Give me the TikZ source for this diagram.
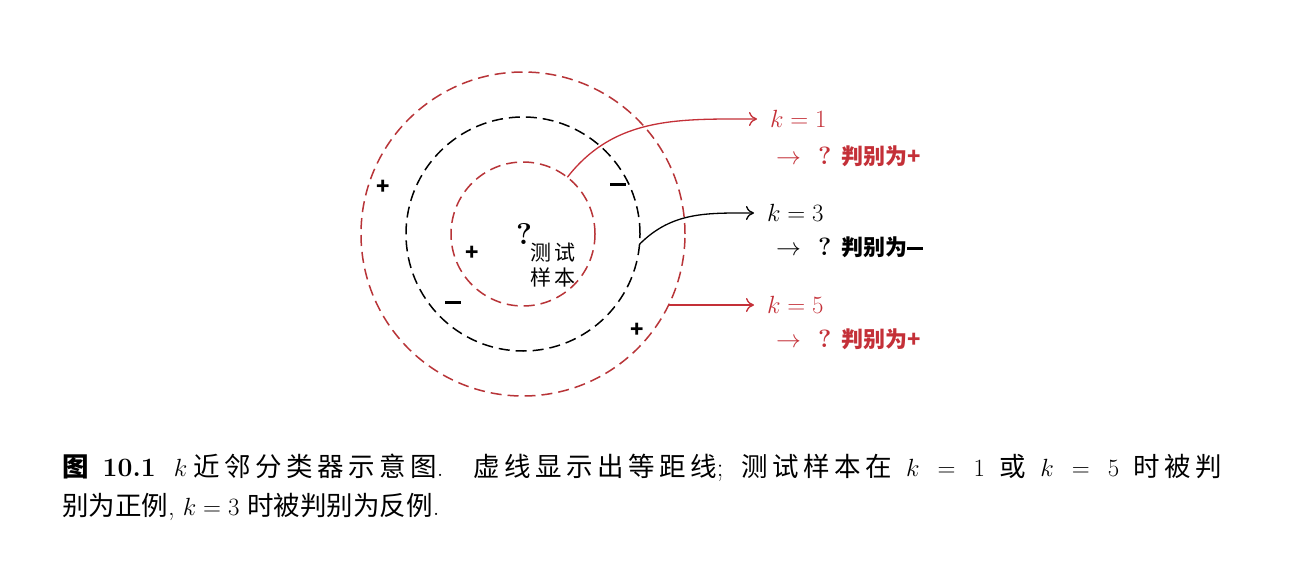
\documentclass[tikz,border=0pt]{standalone}
\usepackage{fontspec}
\newfontfamily\cjk{Noto Sans CJK SC}
\newfontfamily\cjkcap[LetterSpace=17]{Noto Sans CJK SC}
\usetikzlibrary{arrows.meta}
\definecolor{kred}{RGB}{196,48,56}
\definecolor{cred}{RGB}{184,52,56}
\newcommand\zh[1]{{\cjk #1}}
\newcommand\zhs[1]{{\cjkcap #1}}
\newcommand\zhb[1]{{\cjk\bfseries #1}}
\newcommand\mybar{\rule[0.24em]{0.72em}{0.13em}}
\newcommand\resline[1]{{\fontsize{27}{27}\selectfont$\rightarrow$}\hspace{17pt}{\fontsize{25}{25}\selectfont\textbf{?}}\hspace{10pt}\zhb{判别为#1}}
\begin{document}
\begin{tikzpicture}[x=1pt,y=-1pt,
  ring/.style={circle, draw, dash pattern=on 11pt off 6pt, line width=1.5pt, inner sep=0pt, outer sep=0pt},
  conn/.style={line width=1.3pt, -{To[length=8pt,width=14pt]}},
  sign/.style={font=\cjk\fontsize{22}{22}\selectfont\bfseries, inner sep=0pt},
  klab/.style={anchor=west, font=\fontsize{27}{27}\selectfont, inner xsep=13pt, inner ysep=0pt, outer sep=0pt},
  res/.style={anchor=west, font=\fontsize{22}{22}\selectfont, inner sep=0pt},
  captext/.style={anchor=west, font=\fontsize{26.5}{26.5}\selectfont, inner sep=0pt}]
\useasboundingbox (0,0) rectangle (1296,578);
\fill[white] (0,0) rectangle (1296,578);
\coordinate (c) at (523,234);
\node[ring, cred, minimum size=324pt] (outer) at (c) {};
\node[ring, black, minimum size=234pt] (middle) at (c) {};
\node[ring, cred, minimum size=144pt] (inner) at (c) {};
% signs
\node[sign] (p1) at (383,187) {+};
\node[sign] (m1) at (618,187) {\mybar};
\node[sign] (p2) at (472,253) {+};
\node[sign] (m2) at (453,305) {\mybar};
\node[sign] (p3) at (637,330) {+};
% test sample
\node[inner sep=0pt, font=\fontsize{30}{30}\selectfont\bfseries] (q) at (524,234) {?};
\node[inner sep=0pt, align=center, font=\cjk\fontsize{21}{25}\selectfont] (ts) at (553,265) {测\,试\\样\,本};
% labels
\node[klab, kred] (k1) at (757,119) {$k=1$};
\node[res, kred] (r1) at (776,156) {\resline{+}};
\node[klab, black] (k3) at (754,213) {$k=3$};
\node[res, black] (r3) at (776,247) {\resline{\mybar}};
\node[klab, kred] (k5) at (754,305) {$k=5$};
\node[res, kred] (r5) at (776,339) {\resline{+}};
% connectors
\draw[conn, kred] (inner.52) to[out=52,in=180] (k1.west);
\draw[conn, black] (middle.-5) to[out=45,in=180] (k3.west);
\draw[conn, kred] (outer.-26) -- (outer.-26 -| k5.west);
% caption
\node[captext] (cap1) at (62,468) {\hbox to 1160pt{\zhb{图}\hspace{14pt}\textbf{10.1}\hspace{18pt}$k$\hspace{6pt}\zhs{近邻分类器示意图}. \zhs{虚线显示出等距线}; \zhs{测试样本在} $k=1$ \zhs{或} $k=5$ \zhs{时被判}}};
\node[captext] (cap2) at (62,507) {\zh{别为正例}, $k=3$ \zh{时被判别为反例}.};
\end{tikzpicture}
\end{document}
